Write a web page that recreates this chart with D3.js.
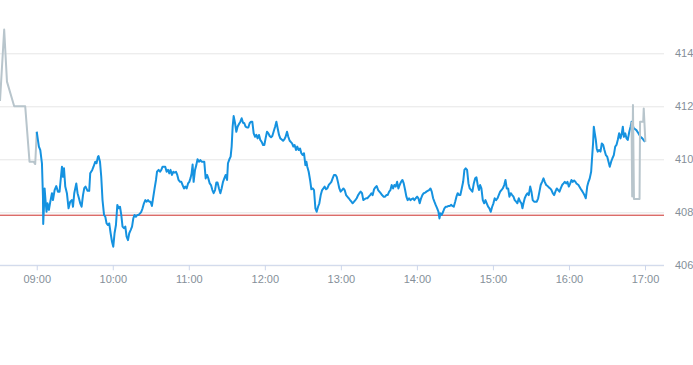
<!DOCTYPE html>
<html>
<head>
<meta charset="utf-8">
<script src="https://cdn.jsdelivr.net/npm/d3@7"></script>
<style>
  html, body { margin: 0; padding: 0; background: #ffffff; }
  svg { display: block; font-family: Roboto, "Liberation Sans", Arial, sans-serif; }
</style>
</head>
<body>
<svg id="chart" width="693" height="365"></svg>
<script>
// ---- data (time = minutes after 09:00, value = price) ----
const hourTickLabels = ["09:00","10:00","11:00","12:00","13:00","14:00","15:00","16:00","17:00"];
const priceTicks = [406, 408, 410, 412, 414];
const previousClose = 407.89;
const timeDomain = ["08:31", "17:15"];

const preMarket = [
  [-29, 412.2], [-25.7, 414.9], [-23.5, 412.93], [-17.8, 412.0], [-9.1, 412.0],
  [-5.7, 409.91], [-2.5, 409.91], [-1.2, 409.82], [0, 411.04]
];

const session = [
  [0,411.04],[0.9,410.73],[1.7,410.48],[2.8,410.35],[4.1,409.85],[4.9,408.59],[5.1,407.56],[5.7,408.21],
  [6.2,408.9],[6.9,408.46],[7.7,408.02],[8.5,408.34],[9.6,408.09],[10.7,408.4],[12.0,408.72],[12.8,408.46],
  [14.1,408.84],[15.4,408.99],[16.7,408.78],[18.0,408.78],[19.1,409.34],[19.9,409.72],[20.7,409.34],[21.5,409.66],
  [22.5,408.97],[23.8,408.72],[25.1,408.15],[26.4,408.4],[27.8,408.46],[28.6,408.21],[29.6,408.72],[31.2,409.09],
  [32.2,408.72],[33.3,408.53],[34.3,408.34],[35.4,408.21],[36.5,408.65],[37.5,408.91],[38.5,408.97],[40.1,408.81],
  [41.4,408.81],[42.2,409.47],[43.8,409.6],[44.8,409.72],[46.2,409.91],[47.2,409.85],[48.3,410.1],[48.8,410.12],
  [49.9,409.91],[50.9,409.34],[51.9,408.46],[53.1,407.9],[54.1,407.83],[55.1,407.58],[56.2,407.52],[57.2,407.58],
  [58.3,407.21],[59.4,406.89],[60.4,406.7],[61.4,407.21],[62.5,407.52],[63.6,408.28],[64.6,408.15],[65.7,408.21],
  [66.7,407.9],[67.7,407.46],[68.8,407.4],[69.9,407.46],[70.9,407.08],[72.0,406.95],[73.0,407.21],[74.1,407.33],
  [75.2,407.46],[76.2,407.77],[77.2,407.9],[78.3,407.83],[79.3,407.9],[80.4,407.9],[81.5,407.96],[82.5,408.02],
  [83.5,408.15],[84.6,408.34],[85.7,408.46],[86.7,408.4],[87.8,408.46],[88.8,408.4],[89.8,408.4],[90.9,408.24],
  [92.0,408.59],[93.0,408.9],[94.1,409.22],[94.9,409.53],[96.2,409.6],[97.3,409.53],[98.3,409.6],[99.3,409.72],
  [100.4,409.72],[101.4,409.72],[102.5,409.53],[103.6,409.6],[104.6,409.47],[105.6,409.6],[106.7,409.41],[107.8,409.53],
  [108.8,409.5],[109.9,409.53],[110.9,409.41],[111.9,409.22],[113.1,409.15],[114.1,409.15],[115.1,409.03],[116.2,408.9],
  [117.2,408.97],[118.3,408.9],[119.4,409.09],[120.4,409.15],[121.4,409.3],[122.2,409.47],[123.0,409.8],[123.8,409.15],
  [124.9,409.6],[125.9,409.78],[126.9,410.0],[128.1,409.91],[129.1,409.97],[130.1,409.91],[131.2,409.91],[132.2,409.91],
  [133.3,409.28],[134.4,409.41],[135.4,409.28],[136.5,409.09],[137.5,409.03],[138.6,408.84],[139.6,408.72],[140.7,408.84],
  [141.7,409.12],[142.7,409.12],[143.8,408.9],[144.9,408.72],[145.9,408.9],[147.0,409.15],[148.0,409.28],[149.1,409.41],
  [150.2,409.22],[150.9,409.85],[152.0,410.0],[153.0,410.1],[153.8,410.48],[154.6,411.23],[155.4,411.63],[156.5,411.36],
  [157.5,411.04],[158.5,411.23],[159.6,411.33],[160.7,411.42],[161.7,411.55],[162.8,411.38],[163.8,411.36],[164.8,411.23],
  [165.9,411.2],[167.0,411.2],[168.0,411.36],[169.1,411.42],[170.1,411.42],[171.2,410.98],[172.3,410.85],[173.3,410.92],
  [174.3,410.79],[175.4,410.92],[176.4,410.73],[177.5,410.66],[178.6,410.54],[179.6,410.54],[180.6,410.79],[181.7,411.04],
  [182.8,410.98],[183.8,410.88],[184.9,410.83],[185.9,410.88],[186.9,411.04],[188.1,411.23],[189.1,411.42],[190.1,411.17],
  [191.2,410.92],[192.2,410.79],[193.3,410.75],[194.4,410.7],[195.4,410.75],[196.4,410.85],[197.5,411.04],[198.5,410.85],
  [199.6,410.7],[200.4,410.66],[201.5,410.6],[202.5,410.48],[203.5,410.54],[204.6,410.35],[205.6,410.48],[206.7,410.35],
  [207.8,410.41],[208.8,410.23],[209.8,410.16],[210.9,410.23],[212.0,409.78],[212.8,409.91],[213.5,409.72],[214.6,409.53],
  [215.7,409.22],[216.7,408.87],[217.8,408.9],[218.8,408.84],[219.9,408.15],[220.9,408.02],[222.0,408.21],[223.0,408.34],
  [224.1,408.65],[225.2,408.84],[226.2,408.9],[227.2,408.97],[228.3,408.87],[229.3,408.9],[230.4,409.03],[231.5,409.09],
  [232.5,409.15],[233.5,409.28],[234.6,409.41],[235.7,409.41],[236.7,409.34],[237.8,409.12],[238.8,408.9],[239.8,408.78],
  [240.9,408.84],[242.0,408.9],[243.0,408.84],[244.1,408.65],[245.1,408.59],[246.2,408.53],[247.3,408.46],[248.3,408.4],
  [249.3,408.34],[250.4,408.4],[251.4,408.46],[252.5,408.53],[253.6,408.65],[254.6,408.72],[255.6,408.78],[256.7,408.72],
  [257.7,408.46],[258.8,408.5],[259.9,408.53],[260.9,408.53],[262.0,408.59],[263.1,408.65],[264.1,408.72],[265.1,408.65],
  [266.2,408.87],[267.2,408.94],[268.3,408.99],[269.4,408.84],[270.4,408.78],[271.4,408.72],[272.5,408.65],[273.8,408.59],
  [274.9,408.59],[275.9,408.65],[276.9,408.65],[278.1,408.78],[279.1,408.84],[280.1,409.03],[281.2,408.9],[282.2,409.03],
  [283.3,408.97],[284.4,409.15],[285.4,408.9],[286.4,409.03],[287.5,409.15],[288.6,409.22],[289.6,409.09],[290.7,408.84],
  [291.7,408.59],[292.7,408.46],[293.8,408.53],[294.9,408.46],[295.9,408.5],[297.0,408.53],[298.0,408.46],[299.1,408.53],
  [300.2,408.59],[301.2,408.53],[302.2,408.34],[303.3,408.53],[304.3,408.65],[305.4,408.72],[306.5,408.74],[307.5,408.78],
  [308.5,408.81],[309.6,408.84],[310.7,408.9],[311.7,408.78],[312.8,408.53],[313.8,408.4],[314.8,408.28],[316.0,408.15],
  [317.0,408.02],[317.8,407.77],[318.6,407.96],[319.6,407.9],[320.7,408.02],[321.7,408.15],[322.8,408.21],[323.9,408.21],
  [324.9,408.24],[325.9,408.24],[327.0,408.28],[328.0,408.24],[329.1,408.21],[330.2,408.4],[331.2,408.59],[332.2,408.72],
  [333.3,408.65],[334.3,408.65],[335.4,408.9],[336.5,409.15],[337.5,409.6],[338.5,409.66],[339.6,409.6],[340.7,409.09],
  [341.7,408.9],[342.8,408.84],[343.8,408.78],[344.9,409.09],[346.0,409.28],[347.0,409.32],[348.0,409.03],[349.0,408.84],
  [349.9,409.03],[350.9,408.9],[352.0,408.46],[353.1,408.34],[354.1,408.46],[355.1,408.34],[356.2,408.21],[357.2,408.15],
  [358.3,408.02],[359.4,408.21],[360.4,408.34],[361.4,408.53],[362.5,408.46],[363.6,408.53],[364.6,408.65],[365.7,408.78],
  [366.7,408.84],[367.8,408.9],[368.9,409.03],[369.9,409.22],[370.9,408.9],[372.0,408.9],[373.0,408.59],[374.1,408.72],
  [375.2,408.65],[376.2,408.59],[377.2,408.46],[378.3,408.4],[379.3,408.34],[380.4,408.53],[381.5,408.4],[382.5,408.34],
  [383.3,408.15],[384.1,408.34],[385.1,408.53],[386.2,408.65],[387.2,408.72],[388.3,408.65],[389.4,408.97],[390.4,408.78],
  [391.4,408.46],[392.5,408.4],[393.6,408.4],[394.6,408.4],[395.7,408.53],[396.7,408.78],[397.7,409.03],[398.8,409.15],
  [399.9,409.28],[400.9,409.15],[402.0,409.03],[403.0,409.0],[404.1,408.94],[405.2,408.9],[406.2,408.84],[407.2,408.72],
  [408.3,408.65],[409.3,408.78],[410.4,408.9],[411.5,408.84],[412.5,408.78],[413.5,408.9],[414.6,409.03],[415.7,409.09],
  [416.7,409.15],[417.8,409.09],[418.8,409.15],[419.9,408.97],[421.0,409.09],[422.0,409.22],[423.0,409.15],[424.1,409.2],
  [425.1,409.15],[425.9,409.09],[427.5,409.03],[429.1,408.9],[430.7,408.78],[432.2,408.65],[433.3,408.53],[434.4,408.97],
  [435.4,409.15],[436.4,409.28],[437.5,409.53],[438.3,410.1],[439.1,410.66],[439.6,411.23],[440.4,410.98],[441.2,410.73],
  [441.9,410.41],[442.7,410.29],[443.8,410.35],[444.9,410.29],[445.9,410.6],[447.0,410.54],[448.0,410.35],[449.1,410.16],
  [450.2,410.1],[451.2,409.91],[452.2,409.72],[453.3,409.91],[454.3,410.04],[455.4,410.16],[456.5,410.48],[457.5,410.54],
  [458.5,410.73],[459.6,410.98],[460.7,410.79],[461.7,410.98],[462.5,411.23],[463.3,410.85],[464.4,410.98],[465.4,410.79],
  [466.4,410.73],[467.6,411.04],[468.6,411.23],[469.4,411.42],[470.2,411.29],[471.2,411.17],[473.2,411.1],[474.8,410.98],
  [476.4,410.85],[477.9,410.79],[480,410.66]
];

const afterHours = [
  [469.4, 411.42], [469.9, 408.6], [470.5, 412.05], [471.3, 408.5], [475.7, 408.5],
  [476.1, 411.42], [478.6, 411.42], [479.0, 411.92], [480.3, 410.66]
];

// ---- chart ----
const W = 693, H = 365;
const plotRight = 664;
const svg = d3.select("#chart");
svg.append("rect").attr("width", W).attr("height", H).attr("fill", "#ffffff");

const base = new Date(2024, 0, 2, 9, 0, 0);
const toDate = m => new Date(base.getTime() + m * 60000);
const parseHM = s => { const [h, m] = s.split(":").map(Number); return new Date(2024, 0, 2, h, m, 0); };

const x = d3.scaleTime().domain(timeDomain.map(parseHM)).range([0, plotRight]);
const y = d3.scaleLinear().domain([406, 414]).range([265.3, 53.3]);

// grid + right labels
const yAxis = d3.axisRight(y).tickValues(priceTicks).tickSize(-plotRight).tickPadding(11).tickFormat(d3.format("d"));
const gy = svg.append("g").attr("transform", `translate(${plotRight},0)`).call(yAxis);
gy.select(".domain").remove();
gy.selectAll(".tick line").attr("stroke", "#e6e6e6").attr("stroke-width", 1);
gy.selectAll(".tick text").attr("fill", "#858f99").attr("font-size", 11);

// x axis
const xAxis = d3.axisBottom(x).tickValues(hourTickLabels.map(parseHM)).tickSize(5).tickPadding(5)
  .tickFormat((d, i) => hourTickLabels[i]);
const gx = svg.append("g").attr("transform", `translate(0,${y(406)})`).call(xAxis);
gx.select(".domain").attr("stroke", "#ccd6eb").attr("d", `M0,0H${plotRight}`);
gx.selectAll(".tick line").attr("stroke", "#ccd6eb");
gx.selectAll(".tick text").attr("fill", "#858f99").attr("font-size", 11);

// previous close line
svg.append("line")
  .attr("x1", 0).attr("x2", plotRight)
  .attr("y1", y(previousClose)).attr("y2", y(previousClose))
  .attr("stroke", "#cc2f2b").attr("stroke-width", 1);

const line = d3.line().x(d => x(toDate(d[0]))).y(d => y(d[1]));

svg.append("path").datum(preMarket).attr("d", line)
  .attr("fill", "none").attr("stroke", "#b8c5cc").attr("stroke-width", 2).attr("stroke-linejoin", "round");
svg.append("path").datum(session).attr("d", line)
  .attr("fill", "none").attr("stroke", "#1592e0").attr("stroke-width", 2).attr("stroke-linejoin", "round");
svg.append("path").datum(afterHours).attr("d", line)
  .attr("fill", "none").attr("stroke", "#b8c5cc").attr("stroke-width", 2).attr("stroke-linejoin", "round");
</script>
</body>
</html>
